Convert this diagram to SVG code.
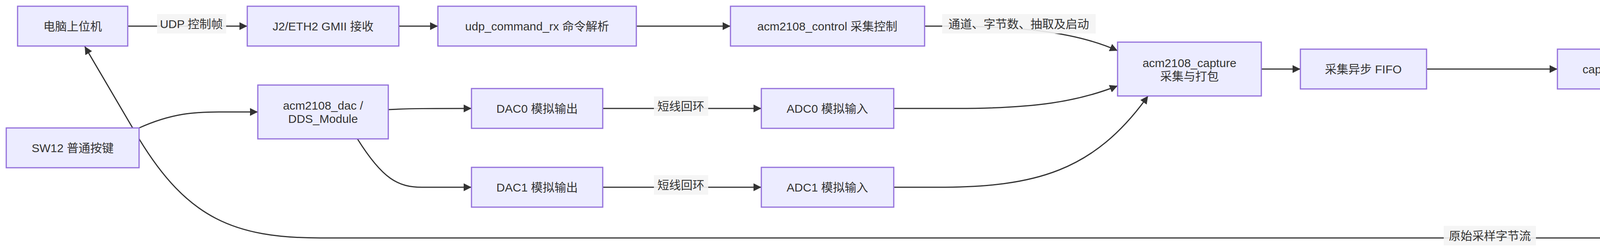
<svg xmlns="http://www.w3.org/2000/svg" width="6810" height="646" viewBox="0 0 6810 646">
<style>
.n rect{fill:#ECECFF;stroke:#9370DB;stroke-width:3}
text{font-family:"Liberation Sans","Noto Sans CJK SC",sans-serif;font-size:30px;fill:#333;text-anchor:middle;dominant-baseline:central}
.e path{fill:none;stroke:#333;stroke-width:3;marker-end:url(#a)}
.l rect{fill:#f4f4f4;opacity:0.9}
</style>
<defs><marker id="a" markerUnits="userSpaceOnUse" viewBox="0 0 10 10" refX="10" refY="5" markerWidth="20" markerHeight="20" orient="auto"><path d="M0,0L10,5L0,10z" fill="#333"/></marker></defs>
<rect width="6810" height="646" fill="#fff"/>
<g class="e" id="connectors">
<path d="M327,67L633,67"/>
<path d="M1021,67L1121,67"/>
<path d="M1629,67L1870,67"/>
<path d="M2367,67L2420,67C2600,67 2750,80 2861,130"/>
<path d="M994,281C1050,278 1100,278 1207,278"/>
<path d="M915,356C980,460 1020,480 1080,480L1207,480"/>
<path d="M356,328C440,290 500,287 560,287L660,287"/>
<path d="M1543,278L1949,278"/>
<path d="M1543,480L1949,480"/>
<path d="M2288,278L2450,278C2650,278 2760,260 2861,220"/>
<path d="M2288,480L2400,480C2650,480 2800,440 2939,246"/>
<path d="M3229,177L3329,177"/>
<path d="M3652,177L3987,177"/>
<path d="M4340,177L4439,177"/>
<path d="M4852,177L4951,177"/>
<path d="M5302,177L5404,177"/>
<path d="M5730,177L5831,177"/>
<path d="M6317,177Q6360,177 6389,205L6533,299"/>
<path d="M6565,403C6510,540 6460,610 6250,610L820,610C600,610 480,560 356,356L217,119"/>
</g>
<g class="l">
<rect x="402" y="36" width="177" height="50"/><text x="490" y="61">UDP 控制帧</text>
<rect x="2412" y="36" width="393" height="50"/><text x="2608" y="61">通道、字节数、抽取及启动</text>
<rect x="1674" y="247" width="139" height="50"/><text x="1743" y="272">短线回环</text>
<rect x="1674" y="449" width="139" height="50"/><text x="1743" y="474">短线回环</text>
<rect x="3696" y="579" width="236" height="50"/><text x="3814" y="604">原始采样字节流</text>
</g>
<g class="n" id="pc"><rect x="45" y="16" width="282" height="102"/><text x="186" y="67">电脑上位机</text></g>
<g class="n" id="rx"><rect x="633" y="16" width="388" height="102"/><text x="827" y="67">J2/ETH2 GMII 接收</text></g>
<g class="n" id="cmd"><rect x="1121" y="16" width="508" height="102"/><text x="1375" y="67">udp_command_rx 命令解析</text></g>
<g class="n" id="ctrl"><rect x="1870" y="16" width="497" height="102"/><text x="2118" y="67">acm2108_control 采集控制</text></g>
<g class="n" id="sw"><rect x="16" y="328" width="340" height="102"/><text x="186" y="379">SW12 普通按键</text></g>
<g class="n" id="dac"><rect x="660" y="218" width="334" height="138"/><text x="827" y="270">acm2108_dac /</text><text x="827" y="304">DDS_Module</text></g>
<g class="n" id="dac0"><rect x="1207" y="227" width="336" height="102"/><text x="1375" y="278">DAC0 模拟输出</text></g>
<g class="n" id="dac1"><rect x="1207" y="429" width="336" height="102"/><text x="1375" y="480">DAC1 模拟输出</text></g>
<g class="n" id="adc0"><rect x="1949" y="227" width="339" height="102"/><text x="2118" y="278">ADC0 模拟输入</text></g>
<g class="n" id="adc1"><rect x="1949" y="429" width="339" height="102"/><text x="2118" y="480">ADC1 模拟输入</text></g>
<g class="n" id="cap"><rect x="2861" y="108" width="368" height="138"/><text x="3045" y="161">acm2108_capture</text><text x="3045" y="195">采集与打包</text></g>
<g class="n" id="fifo1"><rect x="3329" y="126" width="323" height="102"/><text x="3490" y="177">采集异步 FIFO</text></g>
<g class="n" id="axiw"><rect x="3987" y="126" width="353" height="102"/><text x="4163" y="177">capture_axi 写入</text></g>
<g class="n" id="ddr"><rect x="4439" y="126" width="413" height="102"/><text x="4645" y="177">SCU200P 板载 DDR4</text></g>
<g class="n" id="axir"><rect x="4951" y="126" width="351" height="102"/><text x="5126" y="177">capture_axi 读回</text></g>
<g class="n" id="fifo2"><rect x="5404" y="126" width="326" height="102"/><text x="5567" y="177">发送异步 FIFO</text></g>
<g class="n" id="tx"><rect x="5831" y="126" width="486" height="102"/><text x="6074" y="177">udp_capture_tx UDP 分包</text></g>
<g class="n" id="gtx"><rect x="6417" y="300" width="390" height="102"/><text x="6612" y="351">J2/ETH2 GMII 发送</text></g>
</svg>
